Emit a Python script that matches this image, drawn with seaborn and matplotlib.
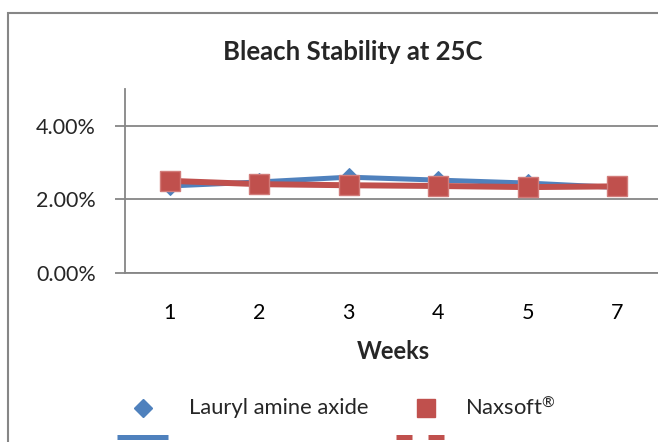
import matplotlib
matplotlib.use("Agg")
import matplotlib.pyplot as plt
from matplotlib.lines import Line2D
from matplotlib.patches import Rectangle
from matplotlib.ticker import PercentFormatter
import pandas as pd
import seaborn as sns

weeks = ["1", "2", "3", "4", "5", "7"]
lauryl = [0.0236, 0.0247, 0.0260, 0.0252, 0.0244, 0.0232]
naxsoft = [0.0250, 0.0241, 0.0238, 0.0236, 0.0233, 0.0235]
series_names = ["Lauryl amine axide", "Naxsoft®"]

BLUE = "#4F81BD"
RED = "#C0504D"
GRAY = "#868686"

df = pd.DataFrame({
    "Weeks": weeks * 2,
    "Value": lauryl + naxsoft,
    "Series": [series_names[0]] * len(weeks) + [series_names[1]] * len(weeks),
})

sns.set_theme(style="white")
plt.rcParams["font.family"] = ["Lato", "DejaVu Sans"]
plt.rcParams["mathtext.fontset"] = "custom"
plt.rcParams["mathtext.rm"] = "Lato"
plt.rcParams["mathtext.it"] = "Lato"
plt.rcParams["mathtext.bf"] = "Lato:bold"

W, H = 658, 442
fig = plt.figure(figsize=(W / 100, H / 100), dpi=100)
ax = fig.add_axes([125 / W, 1 - 272.7 / H, (662 - 125) / W, (272.7 - 89) / H])

blue_df = df[df["Series"] == series_names[0]]
red_df = df[df["Series"] == series_names[1]]
sns.lineplot(data=blue_df, x="Weeks", y="Value", ax=ax, color=BLUE, lw=3.6,
             marker="D", markersize=9.5, markeredgecolor=BLUE, sort=False, zorder=3)
sns.lineplot(data=red_df, x="Weeks", y="Value", ax=ax, color=RED, lw=4.3,
             marker="s", markersize=14, markeredgecolor="#D27C7A", markeredgewidth=1,
             sort=False, zorder=4)

ax.set_xlim(-0.5, 5.5)
ax.set_ylim(0, 0.05)
ax.set_yticks([0, 0.02, 0.04])
ax.yaxis.set_major_formatter(PercentFormatter(1.0, decimals=2))
ax.set_xticks(range(len(weeks)))
ax.set_xticklabels(weeks)
ax.set_xticks([i - 0.5 for i in range(len(weeks) + 1)], minor=True)
ax.tick_params(axis="x", which="major", length=0, pad=22, labelsize=15.5, colors="black")
ax.tick_params(axis="x", which="minor", length=5, width=1.3, color=GRAY, direction="out")
ax.tick_params(axis="y", length=7, width=1.3, color=GRAY, direction="out", pad=14,
               labelsize=15.5, left=True)
ax.grid(axis="y", color=GRAY, lw=1.3)
ax.grid(axis="x", visible=False)
for side in ["top", "right"]:
    ax.spines[side].set_visible(False)
for side in ["left", "bottom"]:
    ax.spines[side].set_color(GRAY)
    ax.spines[side].set_linewidth(1.3)
ax.set_ylabel("")
ax.set_xlabel("Weeks", fontsize=17, fontweight="bold", labelpad=12)
ax.set_facecolor("none")
fig.patch.set_facecolor("white")

fig.text(353 / W, 1 - 60 / H, "Bleach Stability at 25C", ha="center", va="baseline",
         fontsize=18.5, fontweight="bold")

# outer chart frame
fig.add_artist(Rectangle((8 / W, -0.1), 1.2, 1.1 - 13 / H, transform=fig.transFigure,
                         fill=False, edgecolor=GRAY, lw=1.5, clip_on=False))

# legend (Excel style: marker above, line below)
def fx(px):
    return px / W

def fy(py):
    return 1 - py / H

fig.add_artist(Line2D([fx(143)], [fy(408)], marker="D", markersize=9.5, color=BLUE,
                      transform=fig.transFigure))
fig.add_artist(Line2D([fx(117), fx(168)], [fy(437), fy(437)], lw=3.6, color=BLUE,
                      transform=fig.transFigure, solid_capstyle="butt"))
fig.text(fx(189), fy(408), series_names[0], ha="left", va="center", fontsize=15.8)
fig.add_artist(Line2D([fx(426)], [fy(408)], marker="s", markersize=13, color=RED,
                      transform=fig.transFigure))
fig.add_artist(Line2D([fx(396), fx(412)], [fy(437), fy(437)], lw=3.6, color=RED,
                      transform=fig.transFigure, solid_capstyle="butt"))
fig.add_artist(Line2D([fx(428), fx(444)], [fy(437), fy(437)], lw=3.6, color=RED,
                      transform=fig.transFigure, solid_capstyle="butt"))
naxsoft_label = series_names[1].replace("®", "$^{®}$")
fig.text(fx(465), fy(408), naxsoft_label, ha="left", va="center", fontsize=15.8)

fig.savefig("out.png", dpi=100)
